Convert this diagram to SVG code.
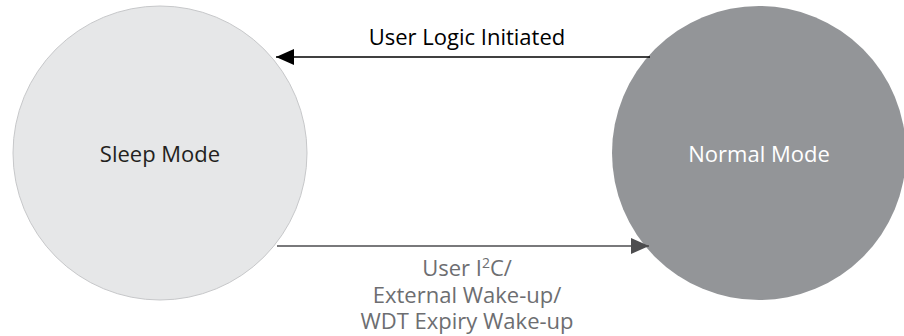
<svg xmlns="http://www.w3.org/2000/svg" width="904" height="336" viewBox="0 0 904 336">
<style>
text{font-family:"Open Sans","Liberation Sans",sans-serif;font-size:22px;text-anchor:middle}
.lbl{fill:#6d6e71}
</style>
<defs>
<marker id="ahB" markerWidth="18" markerHeight="16" refX="18" refY="8" orient="auto" markerUnits="userSpaceOnUse"><path d="M0,0 L18,8 L0,16 Z" fill="#000"/></marker>
<marker id="ahG" markerWidth="18" markerHeight="16" refX="18" refY="8" orient="auto" markerUnits="userSpaceOnUse"><path d="M0,0 L18,8 L0,16 Z" fill="#4d4d4f"/></marker>
</defs>
<rect width="904" height="336" fill="#fff"/>
<g id="sleep">
<circle cx="160" cy="153" r="147" fill="#e6e7e8" stroke="#c7c8ca" stroke-width="1"/>
<text x="160" y="162" fill="#231f20">Sleep Mode</text>
</g>
<g id="normal">
<circle cx="759" cy="153" r="147" fill="#939598"/>
<text x="759" y="162" fill="#ffffff">Normal Mode</text>
</g>
<g id="connectors">
<line x1="650" y1="57" x2="276" y2="57" stroke="#000" stroke-width="1.6" marker-end="url(#ahB)"/>
<line x1="277" y1="246" x2="649" y2="246" stroke="#4d4d4f" stroke-width="1.6" marker-end="url(#ahG)"/>
<text x="467" y="45" fill="#000">User Logic Initiated</text>
<text class="lbl" x="467" y="276">User I<tspan font-size="14" dy="-8">2</tspan><tspan dy="8">C/</tspan></text>
<text class="lbl" x="467" y="303">External Wake-up/</text>
<text class="lbl" x="467" y="329">WDT Expiry Wake-up</text>
</g>
</svg>
